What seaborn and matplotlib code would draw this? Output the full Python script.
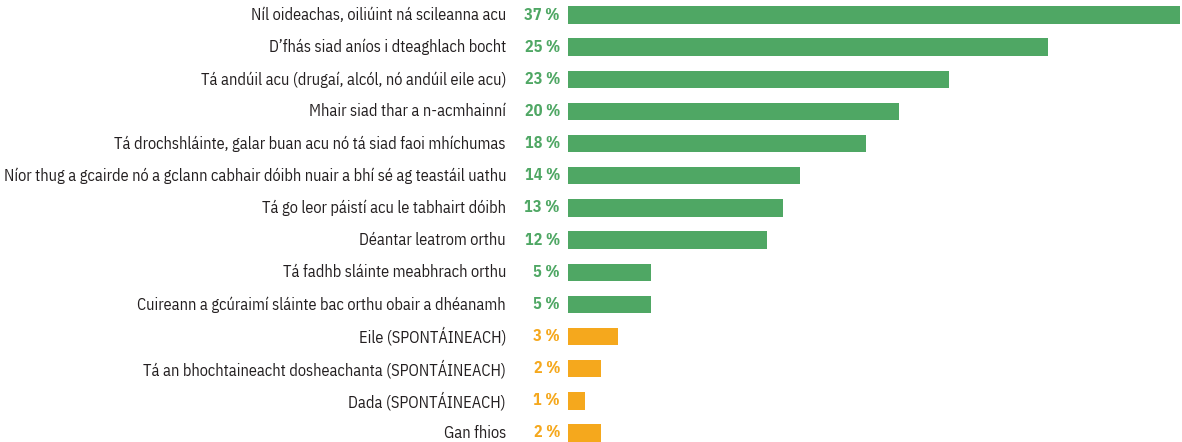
import pandas as pd
import seaborn as sns
from matplotlib import pyplot as plt

# data
categories = [
    "Níl oideachas, oiliúint ná scileanna acu",
    "D’fhás siad aníos i dteaghlach bocht",
    "Tá andúil acu (drugaí, alcól, nó andúil eile acu)",
    "Mhair siad thar a n-acmhainní",
    "Tá drochshláinte, galar buan acu nó tá siad faoi mhíchumas",
    "Níor thug a gcairde nó a gclann cabhair dóibh nuair a bhí sé ag teastáil uathu",
    "Tá go leor páistí acu le tabhairt dóibh",
    "Déantar leatrom orthu",
    "Tá fadhb sláinte meabhrach orthu",
    "Cuireann a gcúraimí sláinte bac orthu obair a dhéanamh",
    "Eile (SPONTÁINEACH)",
    "Tá an bhochtaineacht dosheachanta (SPONTÁINEACH)",
    "Dada (SPONTÁINEACH)",
    "Gan fhios",
]
bar_values = [37, 29, 23, 20, 18, 14, 13, 12, 5, 5, 3, 2, 1, 2]
pct_labels = ["37 %", "25 %", "23 %", "20 %", "18 %", "14 %", "13 %", "12 %",
              "5 %", "5 %", "3 %", "2 %", "1 %", "2 %"]
groups = ["main"] * 10 + ["other"] * 4

colors = {"main": "#4fa764", "other": "#f5a81d"}

df = pd.DataFrame({"cat": categories, "val": bar_values, "grp": groups})

sns.set_theme(style="white")
plt.rcParams['font.family'] = ['IBM Plex Sans Condensed', 'DejaVu Sans']

fig = plt.figure(figsize=(11.82, 4.42), dpi=100)
ax = fig.add_axes([568 / 1182, 0, 614 / 1182, 1])

sns.barplot(data=df, x="val", y="cat", hue="grp", palette=colors, dodge=False,
            width=0.54, legend=False, ax=ax, saturation=1, linewidth=0)

ax.set_xlim(0, 37.1)
ax.set_ylim(13.28, -0.467)
ax.axis("off")

for i, (cat, lab, grp) in enumerate(zip(categories, pct_labels, groups)):
    ax.annotate(cat, xy=(0, i), xycoords=("axes fraction", "data"),
                xytext=(-62 * 0.72, 0), textcoords="offset points",
                ha="right", va="center", fontsize=11.7, color="#231f20")
    ax.annotate(lab, xy=(0, i), xycoords=("axes fraction", "data"),
                xytext=(-8 * 0.72, 0), textcoords="offset points",
                ha="right", va="center", fontsize=11.7, fontweight="bold",
                color=colors[grp])

plt.savefig("out.png", dpi=100)
